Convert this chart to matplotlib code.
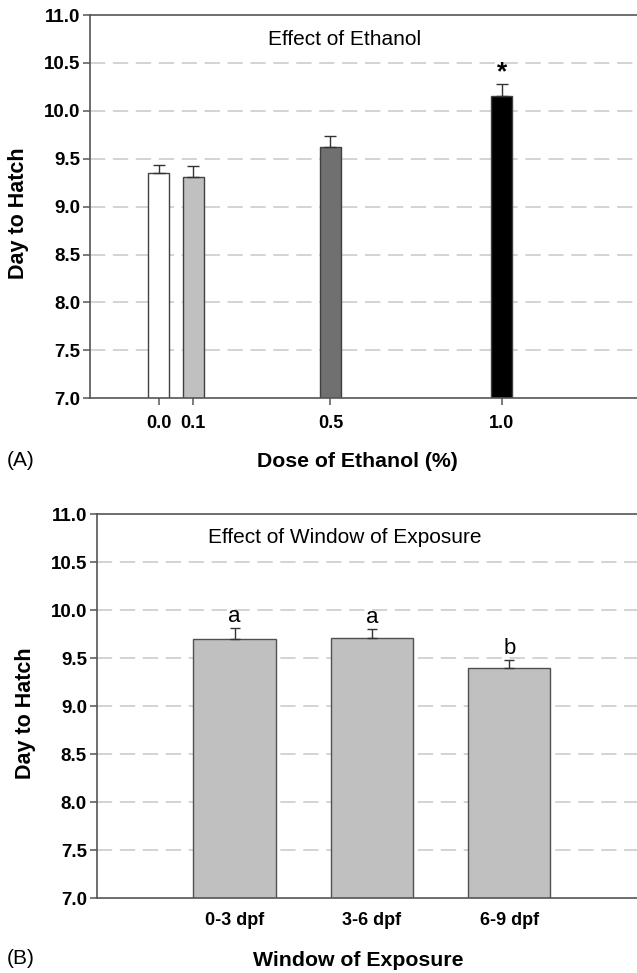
import matplotlib
matplotlib.use("Agg")
import matplotlib.pyplot as plt
import numpy as np

plt.rcParams['font.family'] = ['Liberation Sans', 'DejaVu Sans']

# Panel A data
doses = [0.0, 0.1, 0.5, 1.0]
dose_labels = ['0.0', '0.1', '0.5', '1.0']
hatch_a = [9.35, 9.31, 9.62, 10.15]
err_a = [0.08, 0.115, 0.115, 0.13]
colors_a = ['#ffffff', '#c0c0c0', '#707070', '#000000']
marks_a = ['', '', '', '*']

# Panel B data
windows = ['0-3 dpf', '3-6 dpf', '6-9 dpf']
hatch_b = [9.70, 9.71, 9.40]
err_b = [0.12, 0.10, 0.08]
marks_b = ['a', 'a', 'b']

yticks = [7.0, 7.5, 8.0, 8.5, 9.0, 9.5, 10.0, 10.5, 11.0]

W, H = 637, 973
fig = plt.figure(figsize=(W / 100, H / 100), dpi=100)

def fx(px):
    return px / W

def fy(py):
    return 1 - py / H

def style_axes(ax):
    ax.set_ylim(7.0, 11.0)
    ax.set_yticks(yticks)
    ax.set_yticklabels([f'{t:.1f}' for t in yticks], fontweight='bold', fontsize=13.5)
    for t in yticks[1:-1]:
        ax.axhline(t, color='#c8c8c8', lw=1.1, dashes=(10, 5), zorder=0)
    ax.spines['right'].set_visible(False)
    for s in ['left', 'bottom', 'top']:
        ax.spines[s].set_color('#555555')
        ax.spines[s].set_linewidth(1.2)
    ax.tick_params(axis='both', direction='out', length=5, width=1.1, color='#555555', pad=2)

# Panel A
axA = fig.add_axes([fx(90), fy(398.3), 1 - fx(90), fy(15) - fy(398.3)])
style_axes(axA)
axA.set_xlim(-0.201, 1.394)
axA.bar(doses, hatch_a, width=0.061, color=colors_a, edgecolor='#404040',
        linewidth=1.0, zorder=2)
axA.errorbar(doses, hatch_a, yerr=[np.zeros(len(err_a)), err_a], fmt='none',
             ecolor='#333333', elinewidth=1.0, capsize=4, capthick=1.0, zorder=3)
axA.set_xticks(doses)
axA.set_xticklabels(dose_labels, fontweight='bold', fontsize=13)
axA.tick_params(axis='x', pad=7)
axA.set_ylim(7.0, 11.0)
for x, y, e, m in zip(doses, hatch_a, err_a, marks_a):
    if m:
        axA.text(x, y + e + 0.0, m, ha='center', va='bottom', fontsize=19, fontweight='bold')
axA.text(fx(345 - 90) / (1 - fx(90)), 0.936, 'Effect of Ethanol', transform=axA.transAxes,
         ha='center', va='center', fontsize=15)

# Panel B
axB = fig.add_axes([fx(96.7), fy(898.3), 1 - fx(96.7), fy(514.3) - fy(898.3)])
style_axes(axB)
xb = np.arange(len(windows))
axB.set_xlim(-1.004, 2.93)
axB.bar(xb, hatch_b, width=0.6, color='#c0c0c0', edgecolor='#505050', linewidth=1.0, zorder=2)
axB.errorbar(xb, hatch_b, yerr=[np.zeros(len(err_b)), err_b], fmt='none',
             ecolor='#333333', elinewidth=1.0, capsize=3.6, capthick=1.0, zorder=3)
axB.set_xticks(xb)
axB.set_xticklabels(windows, fontweight='bold', fontsize=13)
axB.tick_params(axis='x', length=0, pad=10)
axB.set_ylim(7.0, 11.0)
for x, y, e, m in zip(xb, hatch_b, err_b, marks_b):
    axB.text(x, y + e + 0.01, m, ha='center', va='bottom', fontsize=16)
axB.text((345 - 96.7) / (637 - 96.7), 0.94, 'Effect of Window of Exposure',
         transform=axB.transAxes, ha='center', va='center', fontsize=15)

# Axis labels and panel tags
fig.text(fx(19), fy(213), 'Day to Hatch', rotation=90, ha='center', va='center',
         fontsize=15.5, fontweight='bold')
fig.text(fx(25), fy(713), 'Day to Hatch', rotation=90, ha='center', va='center',
         fontsize=15.5, fontweight='bold')
fig.text(fx(357), fy(462), 'Dose of Ethanol (%)', ha='center', va='center',
         fontsize=15.3, fontweight='bold')
fig.text(fx(358), fy(960), 'Window of Exposure', ha='center', va='center',
         fontsize=15.3, fontweight='bold')
fig.text(fx(7), fy(461), '(A)', ha='left', va='center', fontsize=15)
fig.text(fx(7), fy(959), '(B)', ha='left', va='center', fontsize=15)

fig.savefig('out.png', dpi=100)
